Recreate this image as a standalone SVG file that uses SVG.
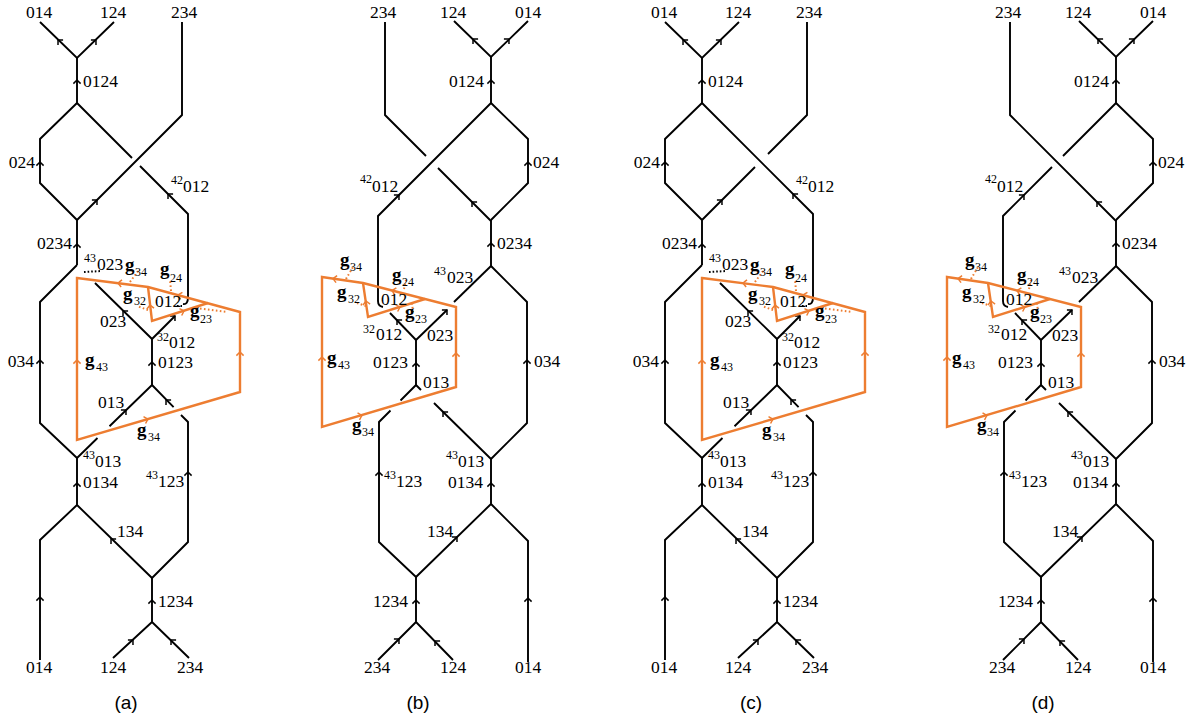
<svg xmlns="http://www.w3.org/2000/svg" xmlns:xlink="http://www.w3.org/1999/xlink" width="1196" height="719" viewBox="0 0 1196 719" font-family="'Liberation Serif', 'DejaVu Serif', serif">
<style>
.s{fill:none;stroke:#000;stroke-width:1.9}
.o{fill:none;stroke:#ED7D31;stroke-width:2.4;stroke-linejoin:miter}
.od{fill:none;stroke:#ED7D31;stroke-width:2;stroke-dasharray:1.6 2.4}
.bd{fill:none;stroke:#000;stroke-width:2;stroke-dasharray:1.6 2}
.ab{stroke:#000}
.ao{stroke:#ED7D31}
.t text{font-family:'Liberation Serif','DejaVu Serif',serif;font-size:17.5px;fill:#000}
.t .sm{font-size:12px}
.t .g{font-weight:bold;font-size:19px}
.m{text-anchor:middle}
.e{text-anchor:end}
.t .cap{font-family:'Liberation Sans',Arial,sans-serif;font-size:19px;text-anchor:middle}
</style>
<defs>
<path id="ah" d="M-3.6,3.6 Q-1.2,1.3 0,0 Q1.2,1.3 3.6,3.6" fill="none" stroke-width="1.5"/>
</defs>
<rect width="1196" height="719" fill="#fff"/>

<!-- ================= PANEL A ================= -->
<g id="panel-a">
 <g id="a-connectors" class="s">
  <path d="M40,22 L77,58 L114,22"/>
  <path d="M77,58 V103"/>
  <path d="M77,103 L40,139 V183 L77,220"/>
  <path d="M77,103 L132,158 M140,166 L188,214 V297 Q188,305 183,304"/>
  <path d="M182,22 V115 L77,220"/>
  <path d="M77,220 V265"/>
  <path d="M77,265 L40,302 V423 L77,458"/>
  <path d="M95,283 L152,339 V385"/>
  <path d="M152,339 L175,316"/>
  <path d="M152,385 L109.5,426.3 M97.5,438 L77,458"/>
  <path d="M152,385 L173.6,407.2 M181,415 L188,422 V542 L152,578"/>
  <path d="M77,458 V505 M77,505 L40,540 V660 M77,505 L152,578 V622 L113,658 M152,622 L189,658"/>
  <path class="bd" d="M84,272 L102,271"/>
  <path class="bd" d="M177,306 L182,306"/>
 </g>
 <g id="a-arrows" class="ab">
  <use xlink:href="#ah" transform="translate(58,40) rotate(-45)"/>
  <use xlink:href="#ah" transform="translate(96,40) rotate(45)"/>
  <use xlink:href="#ah" transform="translate(77,80)"/>
  <use xlink:href="#ah" transform="translate(40,162)"/>
  <use xlink:href="#ah" transform="translate(97,200) rotate(45)"/>
  <use xlink:href="#ah" transform="translate(168,194) rotate(-45)"/>
  <use xlink:href="#ah" transform="translate(77,244)"/>
  <use xlink:href="#ah" transform="translate(40,360)"/>
  <use xlink:href="#ah" transform="translate(123,311) rotate(-45)"/>
  <use xlink:href="#ah" transform="translate(152,362)"/>
  <use xlink:href="#ah" transform="translate(175,316) rotate(45)"/>
  <use xlink:href="#ah" transform="translate(126,410) rotate(45)"/>
  <use xlink:href="#ah" transform="translate(166,400) rotate(-45)"/>
  <use xlink:href="#ah" transform="translate(77,483)"/>
  <use xlink:href="#ah" transform="translate(40,597)"/>
  <use xlink:href="#ah" transform="translate(111,539) rotate(-45)"/>
  <use xlink:href="#ah" transform="translate(188,472)"/>
  <use xlink:href="#ah" transform="translate(152,600)"/>
  <use xlink:href="#ah" transform="translate(133,640) rotate(45)"/>
  <use xlink:href="#ah" transform="translate(171,640) rotate(-45)"/>
 </g>
 <g id="a-loop">
  <path class="o" d="M77,278 L148,287 L240,312 V392 L77,440 Z"/>
  <path class="o" d="M148,287 L152,321 L208,303"/>
  <path class="od" d="M130,282 L138,271"/>
  <path class="od" d="M171,291 L170,280"/>
  <path class="od" d="M148,310 L137,306"/>
  <path class="od" d="M196,308 L227,312"/>
  <g class="ao">
   <use xlink:href="#ah" transform="translate(118,283) rotate(-82.8)"/>
   <use xlink:href="#ah" transform="translate(178,295) rotate(-75)"/>
   <use xlink:href="#ah" transform="translate(150,305) rotate(-6.7)"/>
   <use xlink:href="#ah" transform="translate(184,311) rotate(72)"/>
   <use xlink:href="#ah" transform="translate(77,360)"/>
   <use xlink:href="#ah" transform="translate(240,352)"/>
   <use xlink:href="#ah" transform="translate(148,419) rotate(73.5)"/>
  </g>
 </g>
 <g id="a-labels" class="t">
  <text class="m" x="39" y="18">014</text>
  <text class="m" x="113" y="18">124</text>
  <text class="m" x="184" y="18">234</text>
  <text x="83" y="87">0124</text>
  <text class="e" x="35" y="168">024</text>
  <text class="sm" x="171" y="184">42</text><text x="183" y="192">012</text>
  <text class="e" x="72" y="249">0234</text>
  <text class="sm" x="84" y="262">43</text><text x="97" y="270">023</text>
  <text class="g" x="125" y="271">g</text><text class="sm" x="135" y="276">34</text>
  <text class="g" x="160" y="275">g</text><text class="sm" x="170" y="282">24</text>
  <text class="g" x="123" y="300">g</text><text class="sm" x="134" y="305">32</text>
  <text x="155" y="307">012</text>
  <text class="g" x="190" y="317">g</text><text class="sm" x="200" y="323">23</text>
  <text x="100" y="327">023</text>
  <text class="sm" x="157" y="341">32</text><text x="169" y="348">012</text>
  <text class="e" x="34" y="367">034</text>
  <text class="g" x="85" y="366">g</text><text class="sm" x="96" y="371">43</text>
  <text x="158" y="368">0123</text>
  <text x="98" y="408">013</text>
  <text class="g" x="137" y="436">g</text><text class="sm" x="148" y="441">34</text>
  <text class="sm" x="83" y="459">43</text><text x="95" y="467">013</text>
  <text x="83" y="488">0134</text>
  <text class="sm" x="146" y="479">43</text><text x="158" y="487">123</text>
  <text x="117" y="537">134</text>
  <text x="158" y="607">1234</text>
  <text class="m" x="39" y="673">014</text>
  <text class="m" x="113" y="673">124</text>
  <text class="m" x="190" y="673">234</text>
  <text class="cap" x="126" y="709">(a)</text>
 </g>
</g>

<!-- ================= PANEL C ================= -->
<g id="panel-c" transform="translate(625,0)">
 <g id="c-connectors" class="s">
  <path d="M40,22 L77,58 L114,22"/>
  <path d="M77,58 V103"/>
  <path d="M77,103 L40,139 V183 L77,220"/>
  <path d="M77,103 L188,214 V297 Q188,305 183,304"/>
  <path d="M182,22 V115 L143,154 M130,167 L77,220"/>
  <path d="M77,220 V265"/>
  <path d="M77,265 L40,302 V423 L77,458"/>
  <path d="M95,283 L152,339 V385"/>
  <path d="M152,339 L175,316"/>
  <path d="M152,385 L109.5,426.3 M97.5,438 L77,458"/>
  <path d="M152,385 L173.6,407.2 M181,415 L188,422 V542 L152,578"/>
  <path d="M77,458 V505 M77,505 L40,540 V660 M77,505 L152,578 V622 L113,658 M152,622 L189,658"/>
  <path class="bd" d="M84,272 L102,271"/>
  <path class="bd" d="M177,306 L182,306"/>
 </g>
 <g id="c-arrows" class="ab">
  <use xlink:href="#ah" transform="translate(58,40) rotate(-45)"/>
  <use xlink:href="#ah" transform="translate(96,40) rotate(45)"/>
  <use xlink:href="#ah" transform="translate(77,80)"/>
  <use xlink:href="#ah" transform="translate(40,162)"/>
  <use xlink:href="#ah" transform="translate(97,200) rotate(45)"/>
  <use xlink:href="#ah" transform="translate(168,194) rotate(-45)"/>
  <use xlink:href="#ah" transform="translate(77,244)"/>
  <use xlink:href="#ah" transform="translate(40,360)"/>
  <use xlink:href="#ah" transform="translate(123,311) rotate(-45)"/>
  <use xlink:href="#ah" transform="translate(152,362)"/>
  <use xlink:href="#ah" transform="translate(175,316) rotate(45)"/>
  <use xlink:href="#ah" transform="translate(126,410) rotate(45)"/>
  <use xlink:href="#ah" transform="translate(166,400) rotate(-45)"/>
  <use xlink:href="#ah" transform="translate(77,483)"/>
  <use xlink:href="#ah" transform="translate(40,597)"/>
  <use xlink:href="#ah" transform="translate(111,539) rotate(-45)"/>
  <use xlink:href="#ah" transform="translate(188,472)"/>
  <use xlink:href="#ah" transform="translate(152,600)"/>
  <use xlink:href="#ah" transform="translate(133,640) rotate(45)"/>
  <use xlink:href="#ah" transform="translate(171,640) rotate(-45)"/>
 </g>
 <g id="c-loop">
  <path class="o" d="M77,278 L148,287 L240,312 V392 L77,440 Z"/>
  <path class="o" d="M148,287 L152,321 L208,303"/>
  <path class="od" d="M130,282 L138,271"/>
  <path class="od" d="M171,291 L170,280"/>
  <path class="od" d="M148,310 L137,306"/>
  <path class="od" d="M196,308 L227,312"/>
  <g class="ao">
   <use xlink:href="#ah" transform="translate(118,283) rotate(-82.8)"/>
   <use xlink:href="#ah" transform="translate(178,295) rotate(-75)"/>
   <use xlink:href="#ah" transform="translate(150,305) rotate(-6.7)"/>
   <use xlink:href="#ah" transform="translate(184,311) rotate(72)"/>
   <use xlink:href="#ah" transform="translate(77,360)"/>
   <use xlink:href="#ah" transform="translate(240,352)"/>
   <use xlink:href="#ah" transform="translate(148,419) rotate(73.5)"/>
  </g>
 </g>
 <g id="c-labels" class="t">
  <text class="m" x="39" y="18">014</text>
  <text class="m" x="113" y="18">124</text>
  <text class="m" x="184" y="18">234</text>
  <text x="83" y="87">0124</text>
  <text class="e" x="35" y="168">024</text>
  <text class="sm" x="171" y="184">42</text><text x="183" y="192">012</text>
  <text class="e" x="72" y="249">0234</text>
  <text class="sm" x="84" y="262">43</text><text x="97" y="270">023</text>
  <text class="g" x="125" y="271">g</text><text class="sm" x="135" y="276">34</text>
  <text class="g" x="160" y="275">g</text><text class="sm" x="170" y="282">24</text>
  <text class="g" x="123" y="300">g</text><text class="sm" x="134" y="305">32</text>
  <text x="155" y="307">012</text>
  <text class="g" x="190" y="317">g</text><text class="sm" x="200" y="323">23</text>
  <text x="100" y="327">023</text>
  <text class="sm" x="157" y="341">32</text><text x="169" y="348">012</text>
  <text class="e" x="34" y="367">034</text>
  <text class="g" x="85" y="366">g</text><text class="sm" x="96" y="371">43</text>
  <text x="158" y="368">0123</text>
  <text x="98" y="408">013</text>
  <text class="g" x="137" y="436">g</text><text class="sm" x="148" y="441">34</text>
  <text class="sm" x="83" y="459">43</text><text x="95" y="467">013</text>
  <text x="83" y="488">0134</text>
  <text class="sm" x="146" y="479">43</text><text x="158" y="487">123</text>
  <text x="117" y="537">134</text>
  <text x="158" y="607">1234</text>
  <text class="m" x="39" y="673">014</text>
  <text class="m" x="113" y="673">124</text>
  <text class="m" x="190" y="673">234</text>
  <text class="cap" x="126" y="709">(c)</text>
 </g>
</g>

<!-- ================= PANEL B ================= -->
<g id="panel-b">
 <g id="b-connectors" class="s">
  <path d="M454,21 L491,57 L528,21"/>
  <path d="M491,57 V103"/>
  <path d="M491,103 L528,139 V183 L491,220"/>
  <path d="M491,103 L378,216 V301 Q378,306 383,307"/>
  <path d="M385,22 V115 L426,156 M438,168 L491,221"/>
  <path d="M491,220 V266"/>
  <path d="M491,266 L527,302 V423 L491,459"/>
  <path d="M491,266 L454,302"/>
  <path d="M416,340 L447,310"/>
  <path d="M416,340 V385"/>
  <path d="M416,340 L390,313"/>
  <path d="M416,385 L400.5,400.5 M390.5,410.5 L379,422 V542 L416,577"/>
  <path d="M416,385 L421,390 M434,403 L491,459"/>
  <path d="M491,459 V504 M491,504 L528,541 V662 M491,504 L416,577 V622 L378,660 M416,622 L453,660"/>
 </g>
 <g id="b-arrows" class="ab">
  <use xlink:href="#ah" transform="translate(473,39) rotate(-45)"/>
  <use xlink:href="#ah" transform="translate(509,39) rotate(45)"/>
  <use xlink:href="#ah" transform="translate(491,80)"/>
  <use xlink:href="#ah" transform="translate(528,162)"/>
  <use xlink:href="#ah" transform="translate(399,195) rotate(45)"/>
  <use xlink:href="#ah" transform="translate(472,202) rotate(-45)"/>
  <use xlink:href="#ah" transform="translate(491,243)"/>
  <use xlink:href="#ah" transform="translate(527,360)"/>
  <use xlink:href="#ah" transform="translate(447,310) rotate(45)"/>
  <use xlink:href="#ah" transform="translate(416,363)"/>
  <use xlink:href="#ah" transform="translate(397,320) rotate(-45)"/>
  <use xlink:href="#ah" transform="translate(443,412) rotate(-45)"/>
  <use xlink:href="#ah" transform="translate(491,483)"/>
  <use xlink:href="#ah" transform="translate(528,598)"/>
  <use xlink:href="#ah" transform="translate(457,537) rotate(45)"/>
  <use xlink:href="#ah" transform="translate(379,472)"/>
  <use xlink:href="#ah" transform="translate(416,600)"/>
  <use xlink:href="#ah" transform="translate(399,639) rotate(45)"/>
  <use xlink:href="#ah" transform="translate(435,641) rotate(-45)"/>
 </g>
 <g id="b-loop">
  <path class="o" d="M322,277 L363,283 L456,307 V387 L322,427 Z"/>
  <path class="o" d="M363,283 L368,317 L425,299"/>
  <path class="od" d="M346,279 L353,267"/>
  <path class="od" d="M404,289 L406,280"/>
  <path class="od" d="M366,306 L357,303"/>
  <path class="od" d="M412,303 L413,312"/>
  <g class="ao">
   <use xlink:href="#ah" transform="translate(333,278.6) rotate(-81.7)"/>
   <use xlink:href="#ah" transform="translate(392,290.5) rotate(-75.5)"/>
   <use xlink:href="#ah" transform="translate(366,301) rotate(-8.4)"/>
   <use xlink:href="#ah" transform="translate(400,307) rotate(72.5)"/>
   <use xlink:href="#ah" transform="translate(322,357)"/>
   <use xlink:href="#ah" transform="translate(456,353)"/>
   <use xlink:href="#ah" transform="translate(362,415.4) rotate(73.8)"/>
  </g>
 </g>
 <g id="b-labels" class="t">
  <text class="m" x="383" y="18">234</text>
  <text class="m" x="453" y="18">124</text>
  <text class="m" x="528" y="18">014</text>
  <text class="e" x="484" y="87">0124</text>
  <text x="533" y="168">024</text>
  <text class="sm" x="360" y="183">42</text><text x="372" y="192">012</text>
  <text x="497" y="249">0234</text>
  <text class="sm" x="434" y="275">43</text><text x="447" y="283">023</text>
  <text class="g" x="340" y="266">g</text><text class="sm" x="350" y="271">34</text>
  <text class="g" x="392" y="281">g</text><text class="sm" x="402" y="286">24</text>
  <text class="g" x="337" y="298">g</text><text class="sm" x="348" y="303">32</text>
  <text x="381" y="305">012</text>
  <text class="g" x="405" y="318">g</text><text class="sm" x="415" y="323">23</text>
  <text class="sm" x="363" y="333">32</text><text x="376" y="340">012</text>
  <text x="427" y="341">023</text>
  <text x="534" y="367">034</text>
  <text class="g" x="327" y="364">g</text><text class="sm" x="338" y="369">43</text>
  <text class="e" x="408" y="368">0123</text>
  <text x="423" y="388">013</text>
  <text class="g" x="352" y="431">g</text><text class="sm" x="362" y="436">34</text>
  <text class="sm" x="446" y="459">43</text><text x="458" y="467">013</text>
  <text class="e" x="483" y="488">0134</text>
  <text class="sm" x="384" y="479">43</text><text x="396" y="487">123</text>
  <text x="427" y="537">134</text>
  <text class="e" x="408" y="607">1234</text>
  <text class="m" x="377" y="673">234</text>
  <text class="m" x="453" y="673">124</text>
  <text class="m" x="528" y="673">014</text>
  <text class="cap" x="418" y="709">(b)</text>
 </g>
</g>

<!-- ================= PANEL D ================= -->
<g id="panel-d" transform="translate(625,0)">
 <g id="d-connectors" class="s">
  <path d="M454,21 L491,57 L528,21"/>
  <path d="M491,57 V103"/>
  <path d="M491,103 L528,139 V183 L491,220"/>
  <path d="M491,103 L438,156 M427,167 L378,216 V301 Q378,306 383,307"/>
  <path d="M385,22 V115 L491,221"/>
  <path d="M491,220 V266"/>
  <path d="M491,266 L527,302 V423 L491,459"/>
  <path d="M491,266 L454,302"/>
  <path d="M416,340 L447,310"/>
  <path d="M416,340 V385"/>
  <path d="M416,340 L390,313"/>
  <path d="M416,385 L400.5,400.5 M390.5,410.5 L379,422 V542 L416,577"/>
  <path d="M416,385 L421,390 M434,403 L491,459"/>
  <path d="M491,459 V504 M491,504 L528,541 V662 M491,504 L416,577 V622 L378,660 M416,622 L453,660"/>
 </g>
 <g id="d-arrows" class="ab">
  <use xlink:href="#ah" transform="translate(473,39) rotate(-45)"/>
  <use xlink:href="#ah" transform="translate(509,39) rotate(45)"/>
  <use xlink:href="#ah" transform="translate(491,80)"/>
  <use xlink:href="#ah" transform="translate(528,162)"/>
  <use xlink:href="#ah" transform="translate(399,195) rotate(45)"/>
  <use xlink:href="#ah" transform="translate(472,202) rotate(-45)"/>
  <use xlink:href="#ah" transform="translate(491,243)"/>
  <use xlink:href="#ah" transform="translate(527,360)"/>
  <use xlink:href="#ah" transform="translate(447,310) rotate(45)"/>
  <use xlink:href="#ah" transform="translate(416,363)"/>
  <use xlink:href="#ah" transform="translate(397,320) rotate(-45)"/>
  <use xlink:href="#ah" transform="translate(443,412) rotate(-45)"/>
  <use xlink:href="#ah" transform="translate(491,483)"/>
  <use xlink:href="#ah" transform="translate(528,598)"/>
  <use xlink:href="#ah" transform="translate(457,537) rotate(45)"/>
  <use xlink:href="#ah" transform="translate(379,472)"/>
  <use xlink:href="#ah" transform="translate(416,600)"/>
  <use xlink:href="#ah" transform="translate(399,639) rotate(45)"/>
  <use xlink:href="#ah" transform="translate(435,641) rotate(-45)"/>
 </g>
 <g id="d-loop">
  <path class="o" d="M322,277 L363,283 L456,307 V387 L322,427 Z"/>
  <path class="o" d="M363,283 L368,317 L425,299"/>
  <path class="od" d="M346,279 L353,267"/>
  <path class="od" d="M404,289 L406,280"/>
  <path class="od" d="M366,306 L357,303"/>
  <path class="od" d="M412,303 L413,312"/>
  <g class="ao">
   <use xlink:href="#ah" transform="translate(333,278.6) rotate(-81.7)"/>
   <use xlink:href="#ah" transform="translate(392,290.5) rotate(-75.5)"/>
   <use xlink:href="#ah" transform="translate(366,301) rotate(-8.4)"/>
   <use xlink:href="#ah" transform="translate(400,307) rotate(72.5)"/>
   <use xlink:href="#ah" transform="translate(322,357)"/>
   <use xlink:href="#ah" transform="translate(456,353)"/>
   <use xlink:href="#ah" transform="translate(362,415.4) rotate(73.8)"/>
  </g>
 </g>
 <g id="d-labels" class="t">
  <text class="m" x="383" y="18">234</text>
  <text class="m" x="453" y="18">124</text>
  <text class="m" x="528" y="18">014</text>
  <text class="e" x="484" y="87">0124</text>
  <text x="533" y="168">024</text>
  <text class="sm" x="360" y="183">42</text><text x="372" y="192">012</text>
  <text x="497" y="249">0234</text>
  <text class="sm" x="434" y="275">43</text><text x="447" y="283">023</text>
  <text class="g" x="340" y="266">g</text><text class="sm" x="350" y="271">34</text>
  <text class="g" x="392" y="281">g</text><text class="sm" x="402" y="286">24</text>
  <text class="g" x="337" y="298">g</text><text class="sm" x="348" y="303">32</text>
  <text x="381" y="305">012</text>
  <text class="g" x="405" y="318">g</text><text class="sm" x="415" y="323">23</text>
  <text class="sm" x="363" y="333">32</text><text x="376" y="340">012</text>
  <text x="427" y="341">023</text>
  <text x="534" y="367">034</text>
  <text class="g" x="327" y="364">g</text><text class="sm" x="338" y="369">43</text>
  <text class="e" x="408" y="368">0123</text>
  <text x="423" y="388">013</text>
  <text class="g" x="352" y="431">g</text><text class="sm" x="362" y="436">34</text>
  <text class="sm" x="446" y="459">43</text><text x="458" y="467">013</text>
  <text class="e" x="483" y="488">0134</text>
  <text class="sm" x="384" y="479">43</text><text x="396" y="487">123</text>
  <text x="427" y="537">134</text>
  <text class="e" x="408" y="607">1234</text>
  <text class="m" x="377" y="673">234</text>
  <text class="m" x="453" y="673">124</text>
  <text class="m" x="528" y="673">014</text>
  <text class="cap" x="418" y="709">(d)</text>
 </g>
</g>
</svg>
